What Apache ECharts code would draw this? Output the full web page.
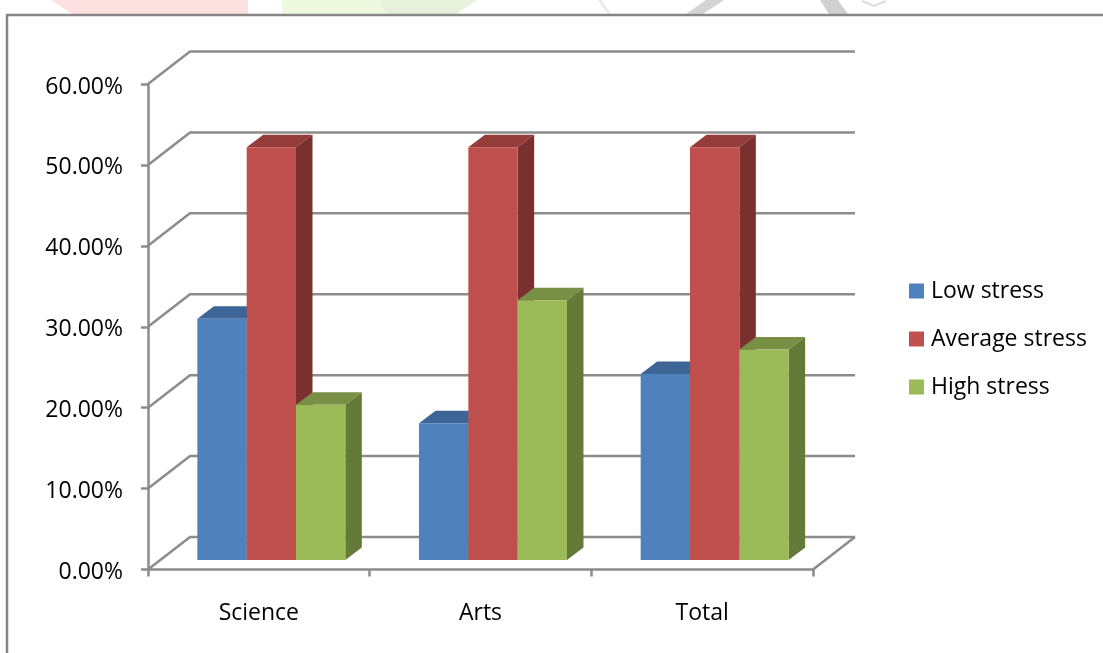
<!DOCTYPE html>
<html><head><meta charset="utf-8">
<style>html,body{margin:0;padding:0;background:#fff}#c{width:1103px;height:653px}</style>
<script src="https://cdn.jsdelivr.net/npm/echarts@6/dist/echarts.min.js"></script>
</head><body><div id="c"></div>
<script>
const categories = ['Science', 'Arts', 'Total'];
const lowStress = [29.8, 16.9, 23.0];
const averageStress = [51.0, 51.0, 51.0];
const highStress = [19.2, 32.1, 26.0];
const seriesNames = ['Low stress', 'Average stress', 'High stress'];
const gridTicks = [0, 10, 20, 30, 40, 50, 60];

const palette = [
  {front:'#4f81bd', top:'#3d6596', side:'#31527a'},
  {front:'#c0504d', top:'#943c3a', side:'#7a302e'},
  {front:'#9bbb59', top:'#788f45', side:'#657a39'}
];
const FONT = '"Open Sans"';
const chart = echarts.init(document.getElementById('c'), null, {renderer:'canvas'});
const GX = 42, GY = -32.5, BX = 12.5, BY = -9.5, SX = 16.5, SY = -12.5;
const LINE = '#8c8c8c';

function barSeries(name, values, idx){
  return {
    name, type:'custom', z:3+idx, coordinateSystem:'cartesian2d',
    itemStyle:{color:palette[idx].front},
    data: values.map((v,i)=>[i,v]),
    encode:{x:0,y:1},
    renderItem(params, api){
      const p = api.coord([api.value(0), api.value(1)]);
      const p0 = api.coord([api.value(0), 0]);
      const w = api.size([1,0])[0]*0.2225;
      const x0 = p[0]-w*1.5+w*idx+BX, x1 = x0+w, yt = p[1]+BY, yb = p0[1]+BY;
      const c = palette[idx];
      return {type:'group', children:[
        {type:'polygon', shape:{points:[[x0,yt],[x1,yt],[x1+SX,yt+SY],[x0+SX,yt+SY]]}, style:{fill:c.top}},
        {type:'polygon', shape:{points:[[x1,yt],[x1+SX,yt+SY],[x1+SX,yb+SY],[x1,yb]]}, style:{fill:c.side}},
        {type:'rect', shape:{x:x0,y:yt,width:w,height:yb-yt}, style:{fill:c.front}}
      ]};
    }
  };
}

const option = {
  animation:false,
  backgroundColor:'#fff',
  textStyle:{fontFamily:FONT},
  grid:{left:148, top:84, width:665, height:485.5},
  legend:{
    data:seriesNames, orient:'vertical', left:904, top:270,
    itemWidth:15, itemHeight:15, itemGap:16, icon:'rect',
    textStyle:{fontFamily:FONT, fontSize:23, color:'#000', lineHeight:32, padding:[0,0,0,2]},
    selectedMode:false
  },
  xAxis:{
    type:'category', data:categories, boundaryGap:true,
    axisLine:{lineStyle:{color:LINE,width:2.5}},
    axisTick:{show:true, alignWithLabel:false, length:7, lineStyle:{color:LINE,width:2.5}},
    axisLabel:{color:'#000', fontSize:23, fontFamily:FONT, margin:32},
    splitLine:{show:false}
  },
  yAxis:{
    type:'value', min:0, max:60, interval:10,
    axisLine:{show:true, lineStyle:{color:LINE,width:2.5}},
    axisTick:{show:true, length:7, lineStyle:{color:LINE,width:2.5}},
    axisLabel:{color:'#000', fontSize:23, fontFamily:FONT, margin:25, verticalAlign:'top', lineHeight:6, formatter:v=>v.toFixed(2)+'%'},
    splitLine:{show:false}
  },
  graphic:[
    {type:'polygon', z:0, shape:{points:[[51,0],[248,0],[248,14],[72,14]]}, style:{fill:'#fde0e0'}},
    {type:'polygon', z:0, shape:{points:[[282,0],[477,0],[456,14],[282,14]]}, style:{fill:'#eefae0'}},
    {type:'polygon', z:0, shape:{points:[[380,0],[477,0],[456,14],[386,14]]}, style:{fill:'#e8f1dc'}},
    {type:'polygon', z:0, shape:{points:[[598,0],[601,0],[611,14],[608,14]]}, style:{fill:'#e8e8e8'}},
    {type:'polygon', z:0, shape:{points:[[706,0],[724,0],[703,14],[686,14]]}, style:{fill:'#d4d4d4'}},
    {type:'polygon', z:0, shape:{points:[[820,0],[838,0],[848,14],[829,14]]}, style:{fill:'#d0d0d0'}},
    {type:'polyline', z:0, shape:{points:[[862,1],[874,6],[886,1]]}, style:{stroke:'#dcdcdc',lineWidth:2,fill:null}},
    {type:'polyline', z:1, shape:{points:[[7,653],[7,15],[1103,15]]}, style:{stroke:'#868686',lineWidth:2.5,fill:null}}
  ],
  series:[
    {
      name:'grid', type:'custom', z:1, coordinateSystem:'cartesian2d',
      data:gridTicks.map(t=>[0,t]), encode:{y:1},
      renderItem(params, api){
        const t = api.value(1);
        const a = api.coord([0,t]);
        const x0 = params.coordSys.x, x1 = x0+params.coordSys.width;
        const pts = [[x0,a[1]],[x0+GX,a[1]+GY],[x1+GX,a[1]+GY]];
        const children = [{type:'polyline', shape:{points:pts}, style:{stroke:LINE,lineWidth:2.5,fill:null}}];
        if(t===0) children.push({type:'line', shape:{x1:x1,y1:a[1],x2:x1+GX,y2:a[1]+GY}, style:{stroke:LINE,lineWidth:2.5}});
        return {type:'group', children};
      }
    },
    barSeries(seriesNames[0], lowStress, 0),
    barSeries(seriesNames[1], averageStress, 1),
    barSeries(seriesNames[2], highStress, 2)
  ]
};
chart.setOption(option);
</script></body></html>
